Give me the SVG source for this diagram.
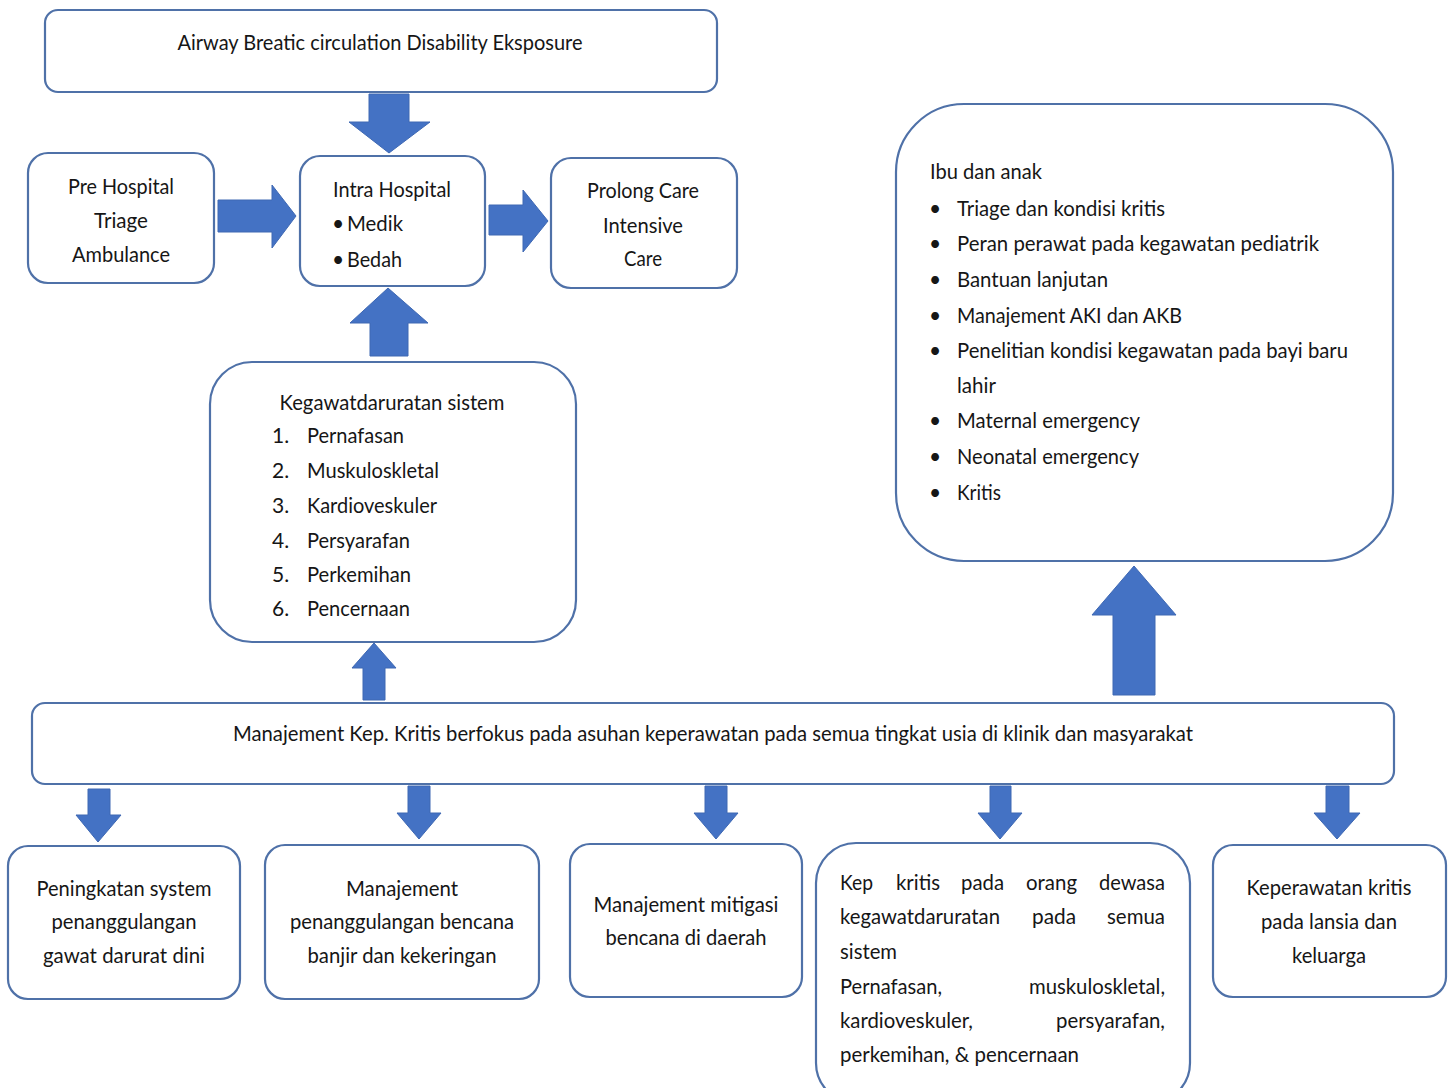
<svg xmlns="http://www.w3.org/2000/svg" width="1455" height="1088" viewBox="0 0 1455 1088">
<style>
.box{fill:#fff;stroke:#4f71a8;stroke-width:2.2}
.arr{fill:#4472c4;stroke:#3e68b3;stroke-width:1}
text{font-family:Lato,"Open Sans","Liberation Sans",sans-serif;font-size:21px;fill:#161616}
.c{text-anchor:middle}
.e{text-anchor:end}
</style>
<rect width="1455" height="1088" fill="#fff"/>
<g id="connectors">
<polygon class="arr" points="369,94 409,94 409,122 430,122 389,153 349,122 369,122"/>
<polygon class="arr" points="218,200 272,200 272,185 296,216 272,248 272,232 218,232"/>
<polygon class="arr" points="489,205 523,205 523,190 548,221 523,252 523,235 489,235"/>
<polygon class="arr" points="388,288 428,323 408,323 408,356 370,356 370,323 350,323"/>
<polygon class="arr" points="374,643 396,668 385,668 385,700 363,700 363,668 352,668"/>
<polygon class="arr" points="1134,566 1176,615 1155,615 1155,695 1113,695 1113,615 1092,615"/>
<polygon class="arr" points="88,789 110,789 110,815 121,815 98,842 76,815 88,815"/>
<polygon class="arr" points="408,786 430,786 430,813 441,813 419,839 397,813 408,813"/>
<polygon class="arr" points="705,786 727,786 727,813 738,813 716,839 694,813 705,813"/>
<polygon class="arr" points="990,786 1011,786 1011,813 1022,813 1000,839 978,813 990,813"/>
<polygon class="arr" points="1326,786 1349,786 1349,813 1360,813 1337,839 1314,813 1326,813"/>
</g>
<g id="abcde">
<rect class="box" x="45" y="10" width="672" height="82" rx="13"/>
<text class="c" x="380" y="50" textLength="405" lengthAdjust="spacingAndGlyphs">Airway Breatic circulation Disability Eksposure</text>
</g>
<g id="pre-hospital">
<rect class="box" x="28" y="153" width="186" height="130" rx="20"/>
<text class="c" x="121" y="194" textLength="106" lengthAdjust="spacingAndGlyphs">Pre Hospital</text>
<text class="c" x="121" y="228" textLength="54" lengthAdjust="spacingAndGlyphs">Triage</text>
<text class="c" x="121" y="262" textLength="98" lengthAdjust="spacingAndGlyphs">Ambulance</text>
</g>
<g id="intra-hospital">
<rect class="box" x="300" y="156" width="185" height="130" rx="20"/>
<text class="c" x="392" y="197" textLength="118" lengthAdjust="spacingAndGlyphs">Intra Hospital</text>
<text x="332" y="231">•</text>
<text x="347" y="231" textLength="56" lengthAdjust="spacingAndGlyphs">Medik</text>
<text x="332" y="267">•</text>
<text x="347" y="267" textLength="55" lengthAdjust="spacingAndGlyphs">Bedah</text>
</g>
<g id="prolong-care">
<rect class="box" x="551" y="158" width="186" height="130" rx="20"/>
<text class="c" x="643" y="198" textLength="112" lengthAdjust="spacingAndGlyphs">Prolong Care</text>
<text class="c" x="643" y="233" textLength="80" lengthAdjust="spacingAndGlyphs">Intensive</text>
<text class="c" x="643" y="266" textLength="38" lengthAdjust="spacingAndGlyphs">Care</text>
</g>
<g id="kegawatdaruratan">
<rect class="box" x="210" y="362" width="366" height="280" rx="42"/>
<text class="c" x="392" y="410" textLength="225" lengthAdjust="spacingAndGlyphs">Kegawatdaruratan sistem</text>
<text x="272" y="443">1.</text><text x="307" y="443" textLength="97" lengthAdjust="spacingAndGlyphs">Pernafasan</text>
<text x="272" y="478">2.</text><text x="307" y="478" textLength="132" lengthAdjust="spacingAndGlyphs">Muskuloskletal</text>
<text x="272" y="513">3.</text><text x="307" y="513" textLength="130" lengthAdjust="spacingAndGlyphs">Kardioveskuler</text>
<text x="272" y="548">4.</text><text x="307" y="548" textLength="103" lengthAdjust="spacingAndGlyphs">Persyarafan</text>
<text x="272" y="582">5.</text><text x="307" y="582" textLength="104" lengthAdjust="spacingAndGlyphs">Perkemihan</text>
<text x="272" y="616">6.</text><text x="307" y="616" textLength="103" lengthAdjust="spacingAndGlyphs">Pencernaan</text>
</g>
<g id="ibu-dan-anak">
<rect class="box" x="896" y="104" width="497" height="457" rx="68"/>
<text x="930" y="179" textLength="112" lengthAdjust="spacingAndGlyphs">Ibu dan anak</text>
<text x="929" y="216">•</text><text x="957" y="216" textLength="208" lengthAdjust="spacingAndGlyphs">Triage dan kondisi kritis</text>
<text x="929" y="251">•</text><text x="957" y="251" textLength="362" lengthAdjust="spacingAndGlyphs">Peran perawat pada kegawatan pediatrik</text>
<text x="929" y="287">•</text><text x="957" y="287" textLength="151" lengthAdjust="spacingAndGlyphs">Bantuan lanjutan</text>
<text x="929" y="323">•</text><text x="957" y="323" textLength="225" lengthAdjust="spacingAndGlyphs">Manajement AKI dan AKB</text>
<text x="929" y="358">•</text><text x="957" y="358" textLength="391" lengthAdjust="spacingAndGlyphs">Penelitian kondisi kegawatan pada bayi baru</text>
<text x="957" y="393" textLength="39" lengthAdjust="spacingAndGlyphs">lahir</text>
<text x="929" y="428">•</text><text x="957" y="428" textLength="183" lengthAdjust="spacingAndGlyphs">Maternal emergency</text>
<text x="929" y="464">•</text><text x="957" y="464" textLength="182" lengthAdjust="spacingAndGlyphs">Neonatal emergency</text>
<text x="929" y="500">•</text><text x="957" y="500" textLength="44" lengthAdjust="spacingAndGlyphs">Kritis</text>
</g>
<g id="manajement-kep-kritis">
<rect class="box" x="32" y="703" width="1362" height="81" rx="13"/>
<text class="c" x="713" y="741" textLength="960" lengthAdjust="spacingAndGlyphs">Manajement Kep. Kritis berfokus pada asuhan keperawatan pada semua tingkat usia di klinik dan masyarakat</text>
</g>
<g id="peningkatan-system">
<rect class="box" x="8" y="846" width="232" height="153" rx="20"/>
<text class="c" x="124" y="896" textLength="175" lengthAdjust="spacingAndGlyphs">Peningkatan system</text>
<text class="c" x="124" y="929" textLength="145" lengthAdjust="spacingAndGlyphs">penanggulangan</text>
<text class="c" x="124" y="963" textLength="162" lengthAdjust="spacingAndGlyphs">gawat darurat dini</text>
</g>
<g id="manajement-bencana">
<rect class="box" x="265" y="845" width="274" height="154" rx="20"/>
<text class="c" x="402" y="896" textLength="112" lengthAdjust="spacingAndGlyphs">Manajement</text>
<text class="c" x="402" y="929" textLength="224" lengthAdjust="spacingAndGlyphs">penanggulangan bencana</text>
<text class="c" x="402" y="963" textLength="189" lengthAdjust="spacingAndGlyphs">banjir dan kekeringan</text>
</g>
<g id="manajement-mitigasi">
<rect class="box" x="570" y="844" width="232" height="153" rx="20"/>
<text class="c" x="686" y="912" textLength="185" lengthAdjust="spacingAndGlyphs">Manajement mitigasi</text>
<text class="c" x="686" y="945" textLength="161" lengthAdjust="spacingAndGlyphs">bencana di daerah</text>
</g>
<g id="kep-kritis-dewasa">
<rect class="box" x="816" y="843" width="374" height="260" rx="40"/>
<text x="840" y="890" textLength="33" lengthAdjust="spacingAndGlyphs">Kep</text>
<text x="896" y="890" textLength="44" lengthAdjust="spacingAndGlyphs">kritis</text>
<text x="961" y="890" textLength="43" lengthAdjust="spacingAndGlyphs">pada</text>
<text x="1026" y="890" textLength="51" lengthAdjust="spacingAndGlyphs">orang</text>
<text class="e" x="1165" y="890" textLength="66" lengthAdjust="spacingAndGlyphs">dewasa</text>
<text x="840" y="924" textLength="160" lengthAdjust="spacingAndGlyphs">kegawatdaruratan</text>
<text x="1032" y="924" textLength="44" lengthAdjust="spacingAndGlyphs">pada</text>
<text class="e" x="1165" y="924" textLength="58" lengthAdjust="spacingAndGlyphs">semua</text>
<text x="840" y="959" textLength="57" lengthAdjust="spacingAndGlyphs">sistem</text>
<text x="840" y="994" textLength="102" lengthAdjust="spacingAndGlyphs">Pernafasan,</text>
<text class="e" x="1165" y="994" textLength="136" lengthAdjust="spacingAndGlyphs">muskuloskletal,</text>
<text x="840" y="1028" textLength="133" lengthAdjust="spacingAndGlyphs">kardioveskuler,</text>
<text class="e" x="1165" y="1028" textLength="109" lengthAdjust="spacingAndGlyphs">persyarafan,</text>
<text x="840" y="1062" textLength="239" lengthAdjust="spacingAndGlyphs">perkemihan, &amp; pencernaan</text>
</g>
<g id="keperawatan-lansia">
<rect class="box" x="1213" y="845" width="233" height="152" rx="20"/>
<text class="c" x="1329" y="895" textLength="165" lengthAdjust="spacingAndGlyphs">Keperawatan kritis</text>
<text class="c" x="1329" y="929" textLength="136" lengthAdjust="spacingAndGlyphs">pada lansia dan</text>
<text class="c" x="1329" y="963" textLength="74" lengthAdjust="spacingAndGlyphs">keluarga</text>
</g>
</svg>
